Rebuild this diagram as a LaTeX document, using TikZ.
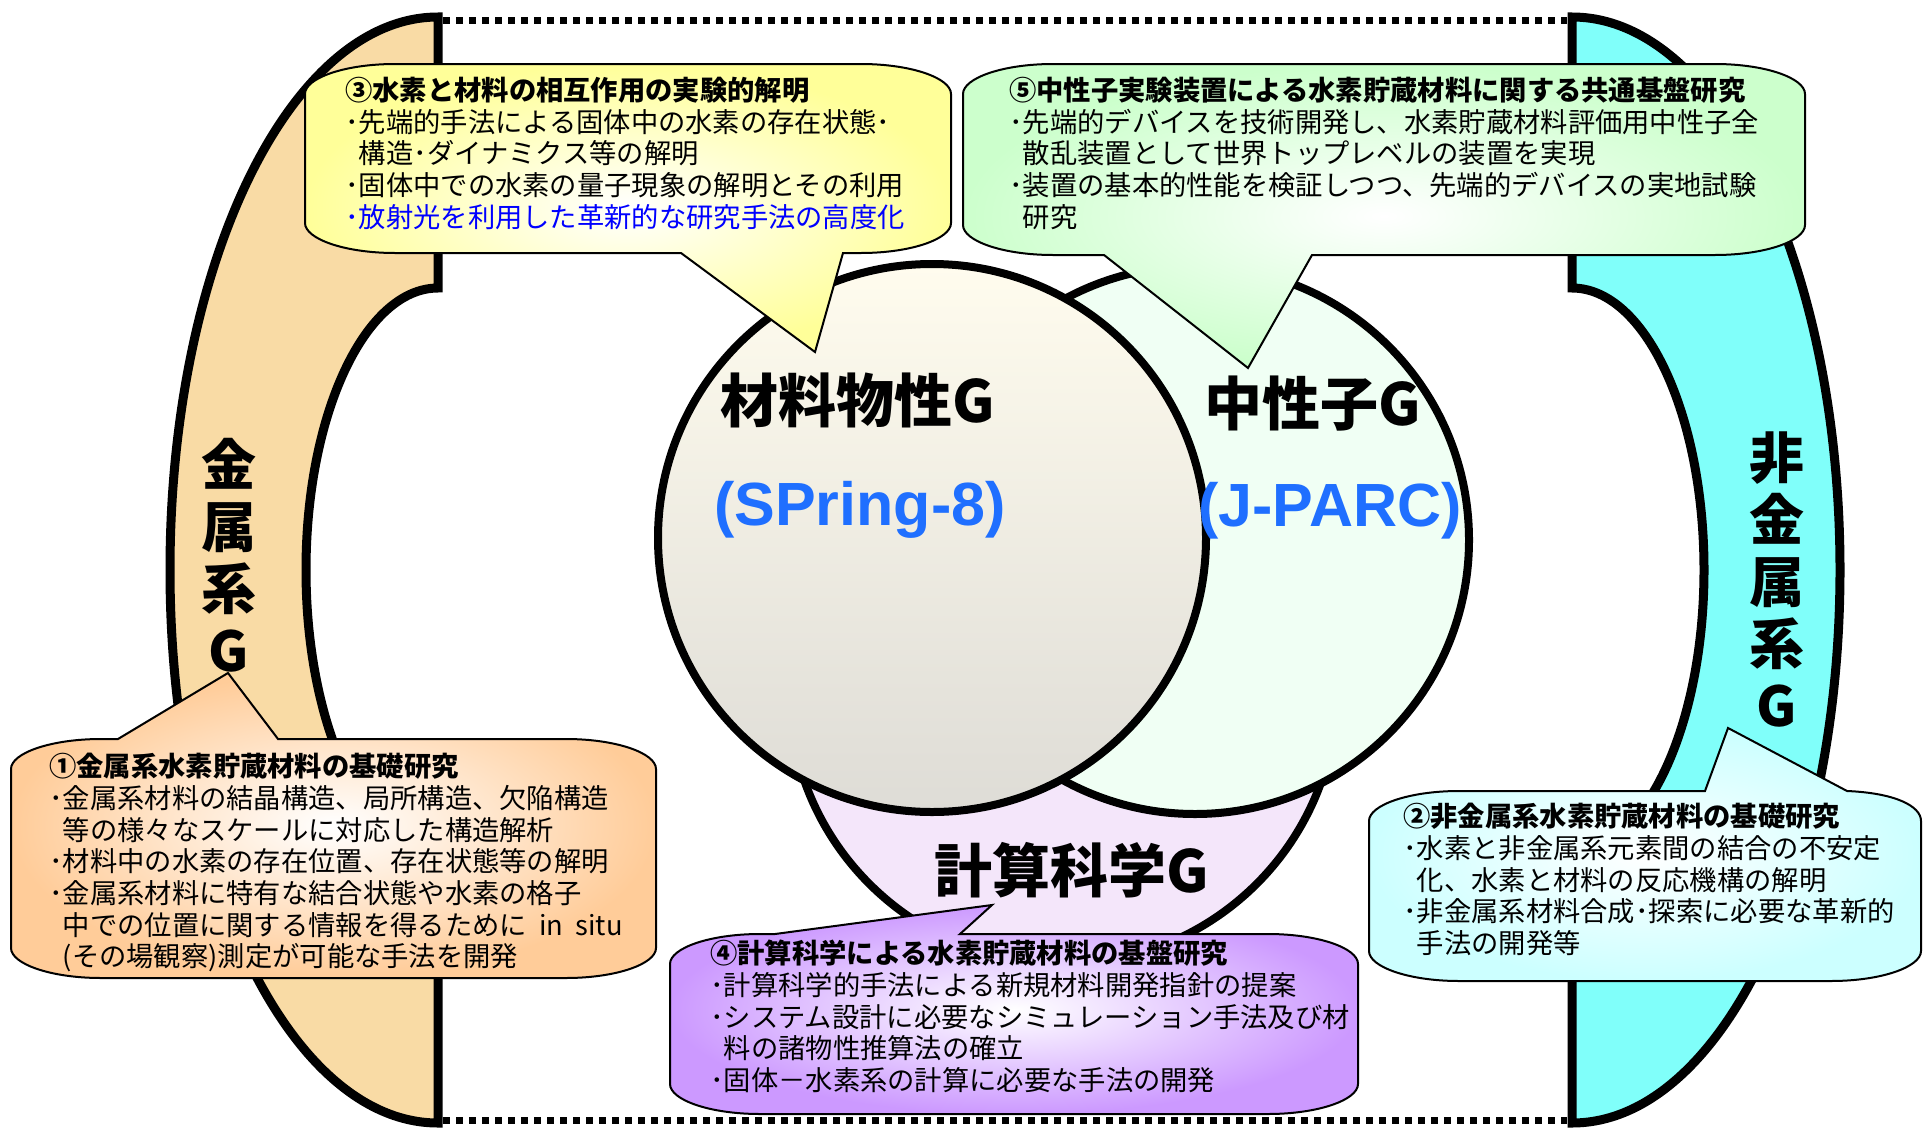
\documentclass[tikz,border=0pt]{standalone}
\usepackage{fontspec}
\setmainfont{Noto Sans CJK JP}
\newfontfamily\arial{Liberation Sans}
\usepackage{tikz}
\definecolor{bandL}{HTML}{F9DBA5}
\definecolor{bandR}{HTML}{80FFFA}
\definecolor{matTop}{HTML}{FFFCEE}
\definecolor{matBot}{HTML}{DEDCD6}
\definecolor{neuFill}{HTML}{F0FFF4}
\definecolor{compFill}{HTML}{F4E6FA}
\definecolor{yelB}{HTML}{FFFF99}
\definecolor{grnB}{HTML}{CCFFCC}
\definecolor{orgB}{HTML}{FFCC99}
\definecolor{cyaB}{HTML}{CCFFFF}
\definecolor{purB}{HTML}{CC99FF}
\definecolor{siteBlue}{HTML}{1F6FFF}
\tikzset{
band/.style={draw=black, line width=9pt}, % the two side arcs
dotline/.style={line width=7pt, dash pattern=on 7pt off 6pt},
grp/.style={circle, draw=black, line width=8pt, minimum size=548pt, inner sep=0pt},
bubble/.style={draw=black, line width=2pt, inner color=white},
note/.style={anchor=north west, inner sep=0pt, align=left, font=\fontsize{27.3}{31.7}\selectfont},
biglabel/.style={font=\bfseries\fontsize{58}{62}\selectfont},
sidelabel/.style={align=center, font=\bfseries\fontsize{55}{62}\selectfont},
sitelabel/.style={font=\arial\bfseries\fontsize{61}{66}\selectfont, text=siteBlue},
}

\begin{document}
\begin{tikzpicture}[x=1pt, y=-1pt]
  \useasboundingbox (0,0) rectangle (1930,1135);

  % side groups
  \draw[band, fill=bandL] (438,17) -- (438,288)
    arc[start angle=270, end angle=90, x radius=132, y radius=282]
    -- (438,1123) arc[start angle=90, end angle=270, x radius=268, y radius=553] -- cycle;
  \draw[band, fill=bandR] (1572,17) -- (1572,288)
    arc[start angle=270, end angle=450, x radius=132, y radius=282]
    -- (1572,1123) arc[start angle=90, end angle=-90, x radius=268, y radius=553] -- cycle;
  \draw[dotline] (443,20) -- (1567,20);
  \draw[dotline] (443,1120) -- (1567,1120);

  % the three circles
  \node[grp, fill=compFill] (compC) at (1063,690) {};
  \node[grp, fill=neuFill] (neuC) at (1195,540) {};
  \node[grp, top color=matTop, bottom color=matBot] (matC) at (932,538) {};

  % callouts
  \draw[bubble, outer color=yelB] (395,64) -- (861,64) .. controls (911,64) and (951,78) .. (951,94)
    -- (951,223) .. controls (951,239) and (911,253) .. (861,253) -- (843,253) -- (815,352) -- (681,253)
    -- (395,253) .. controls (345,253) and (305,239) .. (305,223) -- (305,94)
    .. controls (305,78) and (345,64) .. (395,64) -- cycle;
  \draw[bubble, outer color=grnB] (1053,64) -- (1715,64) .. controls (1765,64) and (1805,78) .. (1805,94)
    -- (1805,225) .. controls (1805,241) and (1765,255) .. (1715,255) -- (1312,255) -- (1248,368) -- (1104,255)
    -- (1053,255) .. controls (1003,255) and (963,241) .. (963,225) -- (963,94)
    .. controls (963,78) and (1003,64) .. (1053,64) -- cycle;
  \draw[bubble, outer color=orgB] (101,739) -- (118,739) -- (228,673) -- (278,739) -- (566,739)
    .. controls (616,739) and (656,753) .. (656,769) -- (656,948) .. controls (656,964) and (616,978) .. (566,978)
    -- (101,978) .. controls (51,978) and (11,964) .. (11,948) -- (11,769)
    .. controls (11,753) and (51,739) .. (101,739) -- cycle;
  \draw[bubble, outer color=cyaB] (1459,791) -- (1705,791) -- (1728,728) -- (1847,791)
    .. controls (1895,793) and (1921,806) .. (1921,821) -- (1921,951) .. controls (1921,967) and (1881,981) .. (1831,981)
    -- (1459,981) .. controls (1409,981) and (1369,967) .. (1369,951) -- (1369,821)
    .. controls (1369,805) and (1409,791) .. (1459,791) -- cycle;
  \draw[bubble, outer color=purB] (760,934) -- (775,934) -- (992,905) -- (960,934) -- (1268,934)
    .. controls (1318,934) and (1358,948) .. (1358,964) -- (1358,1084) .. controls (1358,1100) and (1318,1114) .. (1268,1114)
    -- (760,1114) .. controls (710,1114) and (670,1100) .. (670,1084) -- (670,964)
    .. controls (670,948) and (710,934) .. (760,934) -- cycle;

  % labels
  \node[biglabel] (matG) at (858,400) {材料物性G};
  \node[sitelabel] (spring) at (860,510) {(SPring-8)};
  \node[biglabel] (neuG) at (1313,404) {中性子G};
  \node[sitelabel] (jparc) at (1330,511) {(J-PARC)};
  \node[biglabel] (compG) at (1072,870) {計算科学G};
  \node[sidelabel] (metalG) at (229,555) {金\\属\\系\\G};
  \node[sidelabel] (nonmetalG) at (1777,580) {非\\金\\属\\系\\G};

  \node[note] (t3) at (345,77) {\textbf{③水素と材料の相互作用の実験的解明}\\
    ･先端的手法による固体中の水素の存在状態･\\
    \phantom{･}構造･ダイナミクス等の解明\\
    ･固体中での水素の量子現象の解明とその利用\\
    \textcolor{blue}{･放射光を利用した革新的な研究手法の高度化}};
  \node[note] (t5) at (1009,77) {\textbf{⑤中性子実験装置による水素貯蔵材料に関する共通基盤研究}\\
    ･先端的デバイスを技術開発し、水素貯蔵材料評価用中性子全\\
    \phantom{･}散乱装置として世界トップレベルの装置を実現\\
    ･装置の基本的性能を検証しつつ、先端的デバイスの実地試験\\
    \phantom{･}研究};
  \node[note] (t1) at (49,753) {\textbf{①金属系水素貯蔵材料の基礎研究}\\
    ･金属系材料の結晶構造、局所構造、欠陥構造\\
    \phantom{･}等の様々なスケールに対応した構造解析\\
    ･材料中の水素の存在位置、存在状態等の解明\\
    ･金属系材料に特有な結合状態や水素の格子\\
    \phantom{･}中での位置に関する情報を得るために\ \ in\ \ situ\\
    \phantom{･}(その場観察)測定が可能な手法を開発};
  \node[note] (t2) at (1403,803) {\textbf{②非金属系水素貯蔵材料の基礎研究}\\
    ･水素と非金属系元素間の結合の不安定\\
    \phantom{･}化、水素と材料の反応機構の解明\\
    ･非金属系材料合成･探索に必要な革新的\\
    \phantom{･}手法の開発等};
  \node[note] (t4) at (710,940) {\textbf{④計算科学による水素貯蔵材料の基盤研究}\\
    ･計算科学的手法による新規材料開発指針の提案\\
    ･システム設計に必要なシミュレーション手法及び材\\
    \phantom{･}料の諸物性推算法の確立\\
    ･固体－水素系の計算に必要な手法の開発};
\end{tikzpicture}
\end{document}
